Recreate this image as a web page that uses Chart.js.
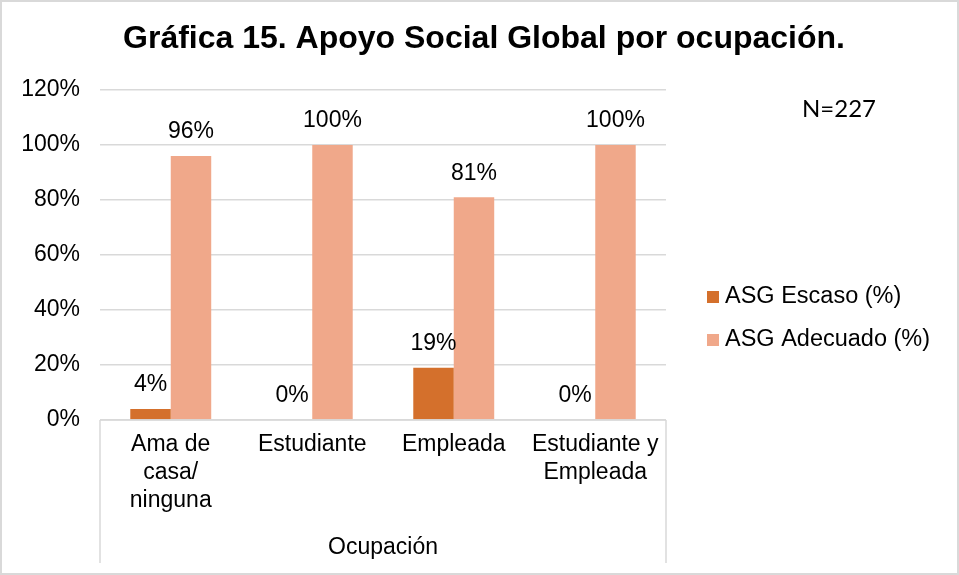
<!DOCTYPE html>
<html>
<head>
<meta charset="utf-8">
<script src="https://cdn.jsdelivr.net/npm/chart.js@4/dist/chart.umd.min.js"></script>
<style>
  html, body { margin: 0; padding: 0; background: #fff; }
  #wrap { width: 959px; height: 575px; }
</style>
</head>
<body>
<div id="wrap"><canvas id="c" width="959" height="575"></canvas></div>
<script>
const titleText = 'Gráfica 15. Apoyo Social Global por ocupación.';
const categories = [['Ama de', 'casa/', 'ninguna'], ['Estudiante'], ['Empleada'], ['Estudiante y', 'Empleada']];
const seriesNames = ['ASG Escaso (%)', 'ASG Adecuado (%)'];
const escaso = [4, 0, 19, 0];
const adecuado = [96, 100, 81, 100];
const yTicks = [0, 20, 40, 60, 80, 100, 120];
const xAxisTitle = 'Ocupación';
const noteText = 'N=227';

const FONT = '"Liberation Sans", Arial, sans-serif';
const colors = ['#D4702C', '#F0A88A'];

const extras = {
  id: 'extras',
  afterDatasetsDraw(chart) {
    const ctx = chart.ctx;
    const a = chart.chartArea;
    ctx.save();
    // title
    ctx.fillStyle = '#000';
    ctx.font = 'bold 32px ' + FONT;
    ctx.textAlign = 'center';
    ctx.textBaseline = 'alphabetic';
    ctx.fillText(titleText, 484, 48);
    // axis box lines
    ctx.strokeStyle = '#d9d9d9';
    ctx.lineWidth = 1.5;
    ctx.beginPath();
    ctx.moveTo(a.left, a.bottom); ctx.lineTo(a.right, a.bottom);
    ctx.moveTo(a.left, a.bottom); ctx.lineTo(a.left, 563);
    ctx.moveTo(a.right, a.bottom); ctx.lineTo(a.right, 563);
    ctx.stroke();
    // data labels
    ctx.fillStyle = '#000';
    ctx.font = '23px ' + FONT;
    ctx.textAlign = 'center';
    ctx.textBaseline = 'middle';
    chart.data.datasets.forEach((ds, di) => {
      const meta = chart.getDatasetMeta(di);
      meta.data.forEach((bar, i) => {
        ctx.fillText(ds.data[i] + '%', bar.x, bar.y - 24);
      });
    });
    // legend
    ctx.textAlign = 'left';
    ctx.font = '23.5px ' + FONT;
    chart.data.datasets.forEach((ds, di) => {
      const cy = 297 + di * 43;
      ctx.fillStyle = ds.backgroundColor;
      ctx.fillRect(707, cy - 6, 12, 12);
      ctx.fillStyle = '#000';
      ctx.fillText(ds.label, 725, cy);
    });
    // note
    ctx.font = '24px Lato, "Open Sans", sans-serif';
    ctx.fillText(noteText, 802, 109);
    // outer border
    ctx.strokeStyle = '#d9d9d9';
    ctx.lineWidth = 2;
    ctx.strokeRect(1, 1, chart.width - 2, chart.height - 2);
    ctx.restore();
  }
};

new Chart(document.getElementById('c'), {
  type: 'bar',
  data: {
    labels: categories,
    datasets: [
      { label: seriesNames[0], data: escaso, backgroundColor: colors[0] },
      { label: seriesNames[1], data: adecuado, backgroundColor: colors[1] }
    ]
  },
  options: {
    responsive: false,
    animation: false,
    devicePixelRatio: 1,
    layout: { padding: { left: 0, right: 293, top: 90, bottom: 0 } },
    datasets: { bar: { categoryPercentage: 0.572, barPercentage: 1.0 } },
    plugins: {
      legend: { display: false },
      tooltip: { enabled: false },
      title: { display: false }
    },
    scales: {
      x: {
        grid: { display: false, drawTicks: false },
        border: { display: false },
        ticks: {
          color: '#000',
          font: { family: FONT, size: 23, lineHeight: 1.22 },
          padding: 11,
          maxRotation: 0,
          autoSkip: false
        },
        title: {
          display: true,
          text: xAxisTitle,
          color: '#000',
          font: { family: FONT, size: 23, lineHeight: 1.2 },
          padding: { top: 0, bottom: 13.7 }
        },
        afterFit(scale) { scale.height = 155; }
      },
      y: {
        min: yTicks[0],
        max: yTicks[yTicks.length - 1],
        grid: { color: '#d9d9d9', lineWidth: 1.5, drawTicks: false },
        border: { display: false },
        afterBuildTicks(scale) { scale.ticks = yTicks.map(v => ({ value: v })); },
        ticks: {
          color: '#000',
          font: { family: FONT, size: 23 },
          padding: 20,
          callback: v => v + '%'
        },
        afterFit(scale) { scale.width = 100; }
      }
    }
  },
  plugins: [extras]
});
</script>
</body>
</html>
